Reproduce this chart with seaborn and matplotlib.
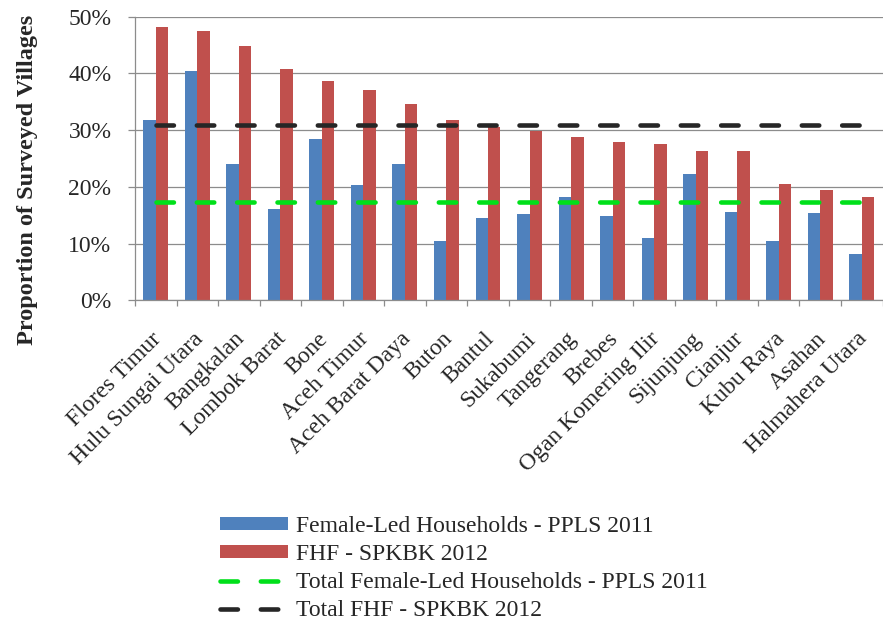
import numpy as np
import pandas as pd
import matplotlib
matplotlib.use("Agg")
import matplotlib.pyplot as plt
import matplotlib.transforms as mtransforms
import seaborn as sns
from matplotlib.ticker import FixedLocator, PercentFormatter, MultipleLocator
from matplotlib.patches import Patch
from matplotlib.lines import Line2D

# ---- data ----
districts = ["Flores Timur", "Hulu Sungai Utara", "Bangkalan", "Lombok Barat", "Bone",
             "Aceh Timur", "Aceh Barat Daya", "Buton", "Bantul", "Sukabumi", "Tangerang",
             "Brebes", "Ogan Komering Ilir", "Sijunjung", "Cianjur", "Kubu Raya", "Asahan",
             "Halmahera Utara"]
female_led_ppls = [31.8, 40.4, 24.1, 16.1, 28.5, 20.3, 24.1, 10.4, 14.5, 15.3, 18.3,
                   14.8, 11.0, 22.2, 15.6, 10.5, 15.4, 8.2]
fhf_spkbk = [48.2, 47.5, 44.9, 40.7, 38.6, 37.0, 34.7, 31.8, 30.6, 29.9, 28.8,
             28.0, 27.5, 26.3, 26.3, 20.6, 19.5, 18.3]
total_female_led = 17.4
total_fhf = 31.0
series_names = ["Female-Led Households - PPLS 2011", "FHF - SPKBK 2012"]
line_names = ["Total Female-Led Households - PPLS 2011", "Total FHF - SPKBK 2012"]
yticks = [0, 10, 20, 30, 40, 50]

BLUE = "#4F81BD"
RED = "#C0504D"
GREEN = "#00E01A"
BLACK = "#262626"
GRID = "#8C8C8C"
FS = 17
DASH = (0, (3.8, 5.0))

df = pd.DataFrame({
    "District": districts * 2,
    "Value": female_led_ppls + fhf_spkbk,
    "Series": [series_names[0]] * len(districts) + [series_names[1]] * len(districts),
})

sns.set_theme(style="white")
plt.rcParams["font.family"] = ["Liberation Serif", "DejaVu Serif"]

fig = plt.figure(figsize=(8.83, 6.2), dpi=100)
ax = fig.add_axes([135 / 883, 1 - 300.5 / 620, 1 - 135 / 883 - 0.0005, (300.5 - 16.7) / 620])

sns.barplot(data=df, x="District", y="Value", hue="Series", order=districts,
            hue_order=series_names, palette=[BLUE, RED], width=0.6, saturation=1,
            linewidth=0, edgecolor="none", ax=ax, legend=False, zorder=2)

lw_pt = 3.3
for val, col, name in [(total_female_led, GREEN, line_names[0]), (total_fhf, BLACK, line_names[1])]:
    sns.lineplot(x=districts, y=[val] * len(districts), ax=ax, color=col,
                 linewidth=lw_pt, linestyle=DASH, sort=False,
                 label=name, zorder=4, legend=False)
for ln in ax.lines[-2:]:
    ln.set_dash_capstyle("round")

ax.set_xlim(-0.5, len(districts) - 0.5)
ax.set_ylim(0, 50)
ax.yaxis.set_major_locator(FixedLocator(yticks))
ax.yaxis.set_major_formatter(PercentFormatter(decimals=0))
ax.grid(axis="y", color=GRID, linewidth=0.9, zorder=0)
ax.set_axisbelow(True)
for s in ["top", "right"]:
    ax.spines[s].set_visible(False)
for s in ["left", "bottom"]:
    ax.spines[s].set_color(GRID)
    ax.spines[s].set_linewidth(0.9)

ax.set_xlabel("")
ax.set_ylabel("")
ax.tick_params(axis="y", which="major", length=5, width=0.9, color=GRID, pad=12,
               labelsize=FS, left=True, direction="out")
ax.tick_params(axis="x", which="major", length=0, pad=20, labelsize=FS)
ax.xaxis.set_minor_locator(MultipleLocator(1, offset=0.5))
ax.tick_params(axis="x", which="minor", length=4.5, width=0.9, color=GRID, bottom=True,
               direction="out")
shift = mtransforms.ScaledTranslation(-5 / 100, 0, fig.dpi_scale_trans)
for lab in ax.get_xticklabels():
    lab.set_rotation(45)
    lab.set_ha("right")
    lab.set_va("top")
    lab.set_rotation_mode("anchor")
    lab.set_transform(lab.get_transform() + shift)

fig.text(28 / 883, 1 - 180 / 620, "Proportion of Surveyed Villages", rotation=90,
         ha="center", va="center", fontsize=17.5, fontweight="bold")

handles = [Patch(facecolor=BLUE, edgecolor="none"), Patch(facecolor=RED, edgecolor="none"),
           Line2D([0], [0], color=GREEN, lw=lw_pt, linestyle=DASH, dash_capstyle="round"),
           Line2D([0], [0], color=BLACK, lw=lw_pt, linestyle=DASH, dash_capstyle="round")]
fig.legend(handles, series_names + line_names, loc="upper left",
           bbox_to_anchor=(220 / 883, 1 - 516 / 620), frameon=False, fontsize=FS,
           handlelength=2.88, handleheight=0.5, handletextpad=0.34, labelspacing=0.3,
           borderpad=0, borderaxespad=0)

fig.savefig("out.png", dpi=100)
